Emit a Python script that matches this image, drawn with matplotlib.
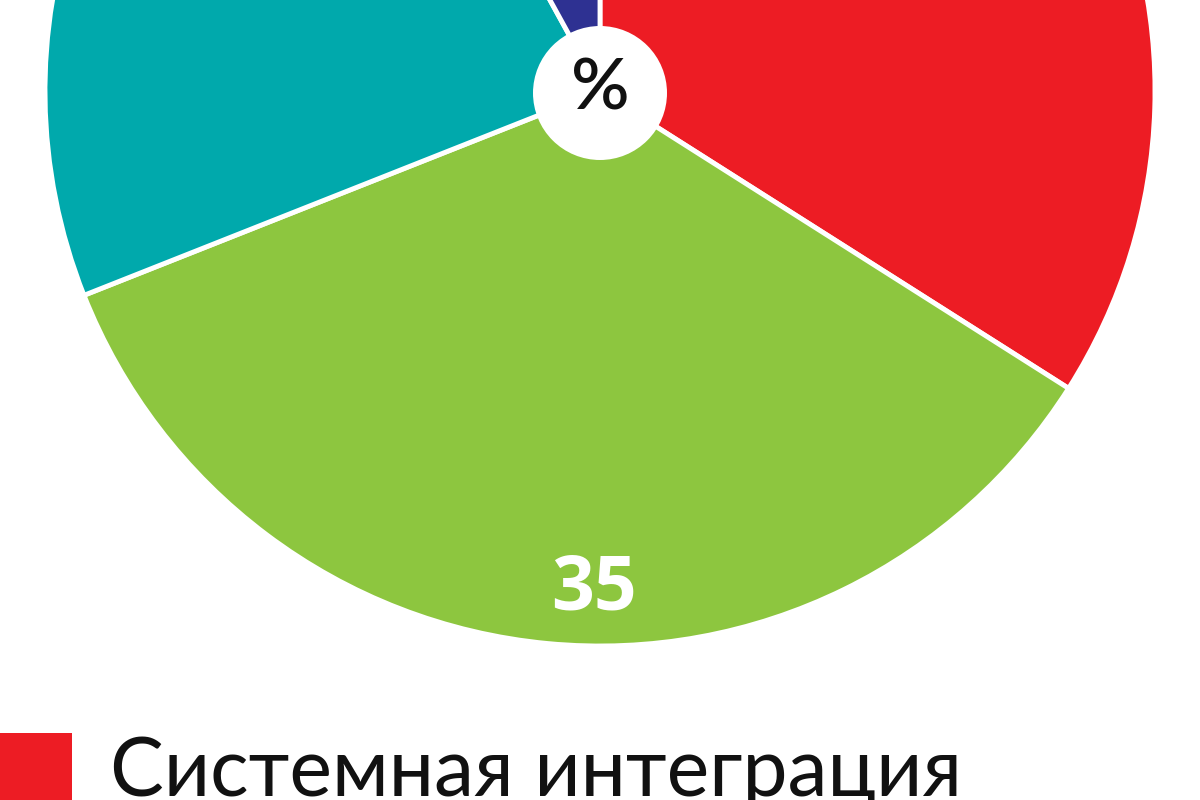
import matplotlib
matplotlib.use('Agg')
import matplotlib.pyplot as plt
from matplotlib.patches import Circle, Rectangle

# shares in percent, clockwise from the top
labels = ['Системная интеграция', 'other 1', 'other 2', 'other 3']
values = [34, 35, 23, 8]
colors = ['#ED1C24', '#8DC63F', '#00A9AC', '#2E3192']
shown_value = 35
legend_label = 'Системная интеграция'

fig = plt.figure(figsize=(12, 8), dpi=100)
ax = fig.add_axes([0, 0, 1, 1])

ax.pie(values, colors=colors, startangle=90, counterclock=False,
       center=(600, 709), radius=555, frame=True,
       wedgeprops=dict(edgecolor='white', linewidth=3.5))

# white hole in the middle with the percent sign
ax.add_patch(Circle((600, 707), 67, facecolor='white', edgecolor='none', zorder=5))
ax.text(600, 710, '%', ha='center', va='center', fontsize=52,
        fontweight='semibold', family=['Lato', 'DejaVu Sans'], color='#111111', zorder=6)

# value label on the green slice
ax.text(594, 210, str(shown_value), ha='center', va='center', fontsize=54,
        fontweight='bold', family=['Open Sans', 'DejaVu Sans'], color='white', zorder=6)

# legend entry
ax.add_patch(Rectangle((0, 0), 72, 67, facecolor=colors[0], edgecolor='none'))
ax.text(110, 4, legend_label, ha='left', va='baseline', fontsize=58,
        family=['Lato', 'DejaVu Sans'], color='#111111')

ax.set_xlim(0, 1200)
ax.set_ylim(0, 800)
ax.set_aspect('equal')
ax.axis('off')

fig.savefig('out.png', dpi=100)
